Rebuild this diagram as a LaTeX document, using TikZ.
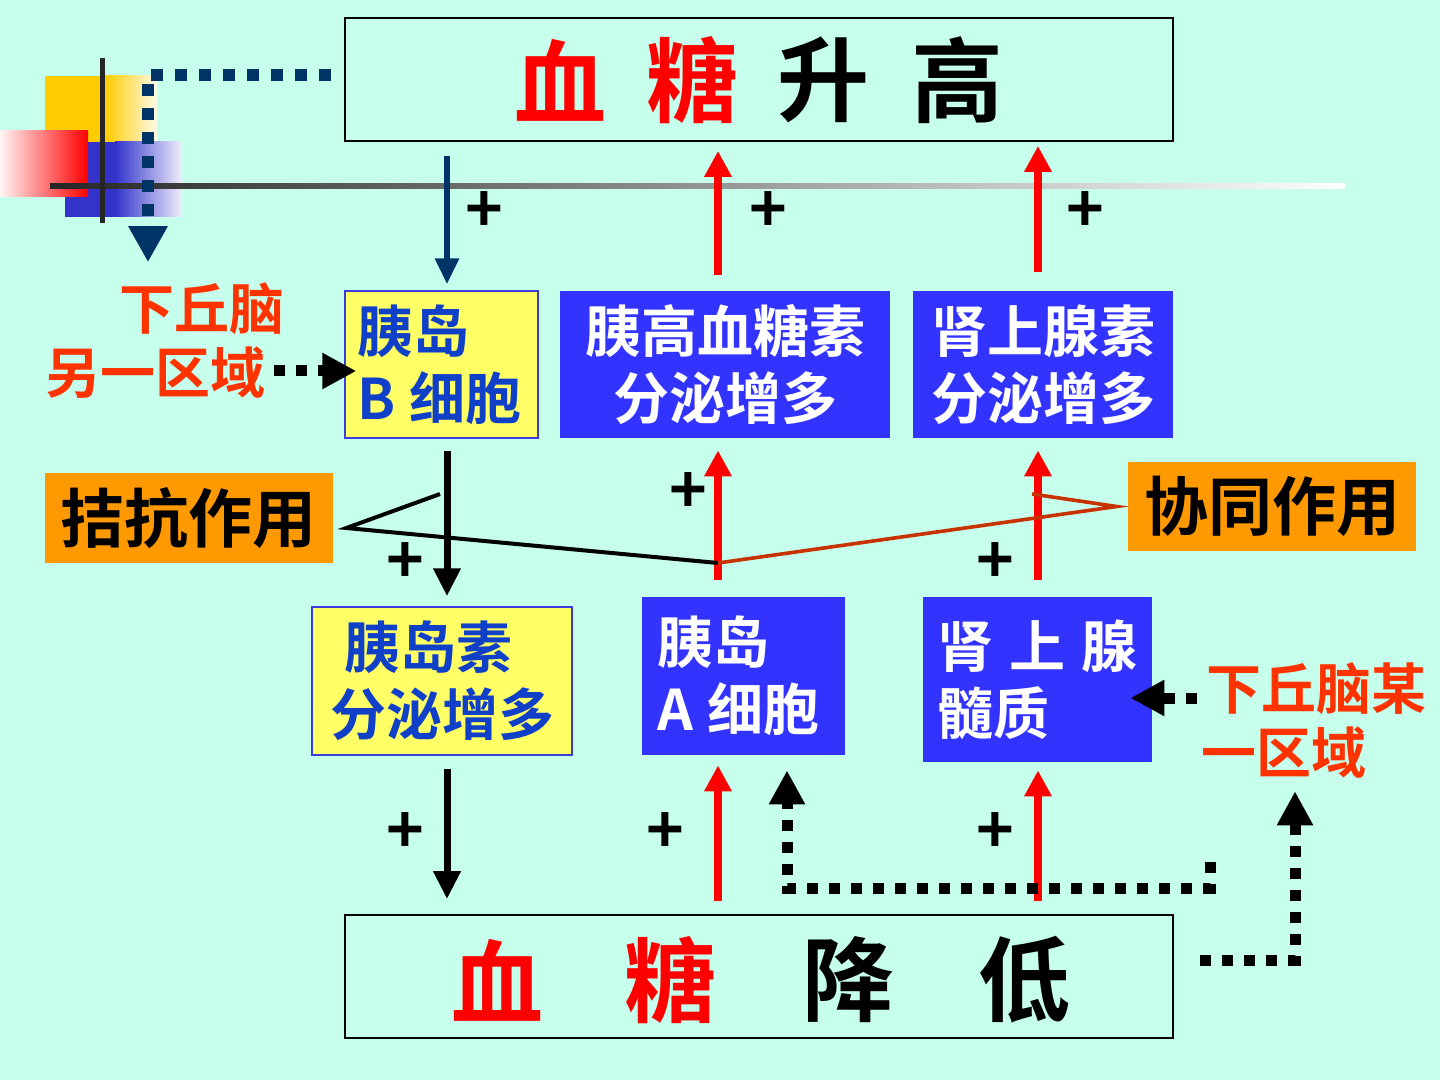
\documentclass[tikz,border=0pt]{standalone}
\usepackage{fontspec}
\setmainfont{Noto Sans CJK SC}[BoldFont={Noto Sans CJK SC Bold}]
\usetikzlibrary{arrows.meta}
\definecolor{bgc}{RGB}{198,255,236}
\definecolor{navy}{RGB}{0,51,102}
\definecolor{boxblue}{RGB}{51,51,255}
\definecolor{txtblue}{RGB}{16,64,200}
\definecolor{bord}{RGB}{60,60,220}
\definecolor{yel}{RGB}{255,255,102}
\definecolor{org}{RGB}{255,153,0}
\definecolor{labred}{RGB}{255,51,0}
\definecolor{synred}{RGB}{200,50,0}
\definecolor{decoy}{RGB}{255,204,0}
\definecolor{decob}{RGB}{51,51,204}
\tikzset{
  boxfont/.style={font=\bfseries\fontsize{28pt}{33.5pt}\selectfont},
  ybox/.style={boxfont, fill=yel, draw=bord, line width=0.7pt, text=txtblue, inner sep=0pt},
  bbox/.style={boxfont, fill=boxblue, text=white, inner sep=0pt},
  obox/.style={font=\bfseries\fontsize{32pt}{36pt}\selectfont, fill=org, text=black, inner sep=0pt},
  tbox/.style={draw=black, line width=0.9pt, minimum width=414pt, minimum height=61.5pt, inner sep=0pt},
  ttl/.style={font=\bfseries\fontsize{46pt}{50pt}\selectfont, inner sep=0pt},
  lab/.style={font=\bfseries\fontsize{27.5pt}{32pt}\selectfont, text=labred, inner sep=0pt},
  plus/.style={font=\bfseries\fontsize{32pt}{32pt}\selectfont, inner sep=0pt},
  redarr/.style={draw=red, line width=4pt, -{Triangle[width=13pt,length=13pt]}},
  blkarr/.style={draw=black, line width=3.5pt, -{Triangle[width=13pt,length=14pt]}},
  navyarr/.style={draw=navy, line width=3pt, -{Triangle[width=11.5pt,length=13pt]}},
  dotk/.style={draw=black, line width=5.5pt, dash pattern=on 5.5pt off 5.5pt, -{Triangle[width=17pt,length=17pt]}},
  dotn/.style={draw=navy, line width=6pt, dash pattern=on 6pt off 6pt, -{Triangle[width=18.5pt,length=18pt]}},
  antline/.style={draw=black, line width=2pt},
  synline/.style={draw=synred, line width=1.8pt},
}
\begin{document}
\begin{tikzpicture}[x=0.5pt,y=-0.5pt]
% background
\fill[bgc] (0,0) rectangle (1440,1080);
\useasboundingbox (0,0) rectangle (1440,1080);

% decoration top-left
\fill[decoy] (45,76) rectangle (106,142);
\shade[left color=decoy, right color=decoy!8!white] (105,76) rectangle (157,142);
\fill[decob] (65,142) rectangle (116,217);
\shade[left color=decob, right color=decob!8!white] (115,142) rectangle (182,217);
\shade[left color=red!4!white, right color=red] (0,131) rectangle (88,197);
\shade[left color=black!85, right color=white] (50,183.5) rectangle (1345,188.5);
\draw[black!85, line width=2.5pt] (102,58) -- (102,223);

% main boxes
\node[tbox] (top) at (759,79.5) {};
\node[ttl, text=red] (t1) at (560,80) {血};
\node[ttl, text=red] (t2) at (692,80) {糖};
\node[ttl] (t3) at (823,80) {升};
\node[ttl] (t4) at (957,80) {高};

\node[tbox] (bot) at (759,976.5) {};
\node[ttl, text=red] (b1) at (497,980) {血};
\node[ttl, text=red] (b2) at (670,980) {糖};
\node[ttl] (b3) at (848,980) {降};
\node[ttl] (b4) at (1024,980) {低};

\node[ybox, minimum width=96.5pt, minimum height=73.5pt, text width=84pt, align=left] (bcell) at (441.5,364.5) {胰岛\\\mbox{B\hspace{7pt}细胞}};
\node[bbox, minimum width=165pt, minimum height=73.5pt, align=center] (gcg) at (725,364.5) {胰高血糖素\\分泌增多};
\node[bbox, minimum width=130pt, minimum height=73.5pt, align=center] (epi) at (1043,364.5) {肾上腺素\\分泌增多};
\node[ybox, minimum width=130pt, minimum height=74pt, align=center] (ins) at (442,681) {胰岛素\hspace*{14pt}\\分泌增多};
\node[bbox, minimum width=101.5pt, minimum height=79pt, text width=86pt, align=left] (acell) at (743.5,676) {胰岛\\\mbox{A\hspace{7pt}细胞}};
\node[bbox, minimum width=114.5pt, minimum height=82.5pt, text width=100pt, align=left] (med) at (1037.5,679.5) {\mbox{肾\hspace{8pt}上\hspace{8pt}腺}\\髓质};

\node[obox, minimum width=144pt, minimum height=45pt] (antag) at (189,518) {拮抗作用};
\node[obox, minimum width=144pt, minimum height=44.5pt] (syn) at (1272,506.5) {协同作用};

\node[lab, anchor=west, align=left] (hyp1) at (45,340.5) {\hspace*{37pt}下丘脑\\另一区域};
\node[lab, anchor=west, align=left] (hyp2) at (1201,721) {\hspace*{2.5pt}下丘脑某\\一区域};

% plus signs
\node[plus] (p1) at (484,212) {+};
\node[plus] (p2) at (768,212) {+};
\node[plus] (p3) at (1085,212) {+};
\node[plus] (p4) at (688,493) {+};
\node[plus] (p5) at (405,563) {+};
\node[plus] (p6) at (995,563) {+};
\node[plus] (p7) at (405,833) {+};
\node[plus] (p8) at (665,833) {+};
\node[plus] (p9) at (995,833) {+};

% columns
\coordinate (c1) at (447,0);
\coordinate (c2) at (718,0);
\coordinate (c3) at (1038,0);

% solid arrows
\draw[navyarr, shorten <=7pt, shorten >=3pt] (c1 |- top.south) -- (c1 |- bcell.north);
\draw[redarr, shorten <=8pt, shorten >=4.5pt] (c2 |- gcg.north) -- (c2 |- top.south);
\draw[redarr, shorten <=9.5pt, shorten >=2pt] (c3 |- epi.north) -- (c3 |- top.south);
\draw[blkarr, shorten <=6pt, shorten >=5pt] (c1 |- bcell.south) -- (c1 |- ins.north);
\draw[redarr, shorten <=8.5pt, shorten >=6pt] (c2 |- acell.north) -- (c2 |- gcg.south);
\draw[redarr, shorten <=8.5pt, shorten >=6pt] (c3 |- med.north) -- (c3 |- epi.south);
\draw[blkarr, shorten <=6.5pt, shorten >=7.5pt] (c1 |- ins.south) -- (c1 |- bot.north);
\draw[redarr, shorten <=6.5pt, shorten >=5pt] (c2 |- bot.north) -- (c2 |- acell.south);
\draw[redarr, shorten <=6.5pt, shorten >=4pt] (c3 |- bot.north) -- (c3 |- med.south);

% antagonism / synergy lines
\coordinate (jb) at (440,494);
\coordinate (jc) at (718,563);
\coordinate (sb) at (1032,494);
\draw[antline] (jb) -- ([xshift=6.5pt,yshift=-5pt]antag.east) -- (jc);
\draw[synline] (sb) -- ([xshift=-5.5pt]syn.west) -- (jc);

% dotted arrows
\coordinate (xn) at (148,75);
\draw[dotn, shorten <=6.5pt, shorten >=10pt] (top.west |- xn) -- (xn) -- (xn |- hyp1.north);
\coordinate (ya) at (274,371);
\draw[dotk, shorten >=-6pt] (ya) -- (ya -| bcell.west);
\coordinate (yb) at (1197,698);
\draw[dotk, shorten >=-11pt] (yb) -- (yb -| med.east);
\coordinate (yc) at (1200,960);
\coordinate (xc) at (1295,0);
\draw[dotk, shorten >=6pt] (yc) -| (xc |- hyp2.south);
\coordinate (lp) at (1210,862);
\coordinate (lc) at (787,888);
\draw[dotk, shorten >=7.5pt] (lp) |- (lc) -- (lc |- acell.south);
\end{tikzpicture}
\end{document}
